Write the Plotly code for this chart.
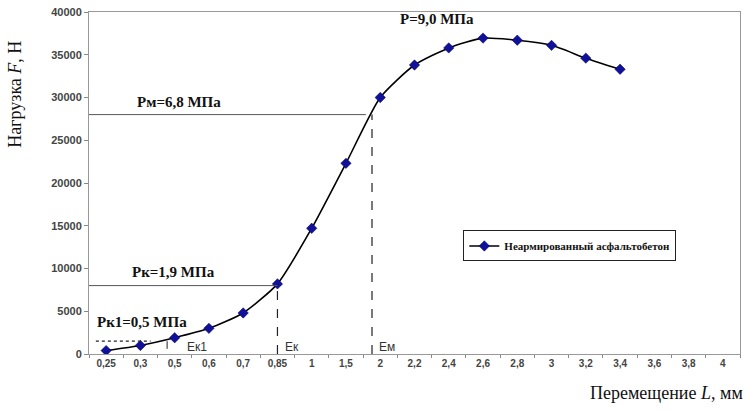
import plotly.graph_objects as go

# ---- data ----
categories = ["0,25", "0,3", "0,5", "0,6", "0,7", "0,85", "1", "1,5", "2", "2,2",
              "2,4", "2,6", "2,8", "3", "3,2", "3,4", "3,6", "3,8", "4"]
load_values = [400, 1000, 1900, 3000, 4800, 8200, 14700, 22300, 30000, 33800,
               35800, 36950, 36700, 36100, 34600, 33300]
series_name = "Неармированный асфальтобетон"
y_ticks = [0, 5000, 10000, 15000, 20000, 25000, 30000, 35000, 40000]

# reference levels (load) and category positions of the marks
pk1_load, pk_load, pm_load = 1500, 8000, 28000
ek1_pos, ek_pos, em_pos = 1.78, 5.0, 7.76

fig = go.Figure()
fig.add_trace(go.Scatter(
    x=categories[:len(load_values)], y=load_values, mode="lines+markers",
    name="<b>" + series_name + "</b>",
    line=dict(color="black", width=1.6, shape="spline", smoothing=0.6),
    marker=dict(symbol="diamond", size=8, color="#10109a", line=dict(color="#000050", width=0.5)),
))

line_col = "#555555"
shapes = [
    # Pм
    dict(type="line", xref="x", yref="y", x0=-0.5, x1=em_pos - 0.18, y0=pm_load, y1=pm_load,
         line=dict(color=line_col, width=1)),
    dict(type="line", xref="x", yref="y", x0=em_pos, x1=em_pos, y0=0, y1=pm_load,
         line=dict(color="#222", width=1.2, dash="dash")),
    # Pк
    dict(type="line", xref="x", yref="y", x0=-0.5, x1=ek_pos, y0=pk_load, y1=pk_load,
         line=dict(color=line_col, width=1)),
    dict(type="line", xref="x", yref="y", x0=ek_pos, x1=ek_pos, y0=0, y1=pk_load,
         line=dict(color="#222", width=1.2, dash="dash")),
    # Pк1
    dict(type="line", xref="x", yref="y", x0=-0.3, x1=1.3, y0=pk1_load, y1=pk1_load,
         line=dict(color="#222", width=1.2, dash="dot")),
    dict(type="line", xref="x", yref="y", x0=ek1_pos, x1=ek1_pos, y0=600, y1=pk1_load,
         line=dict(color="#222", width=1, dash="dash")),
]

serif = "Liberation Serif"
ann = []
def lab(x, y, text, size=15, font=serif, bold=True, xanchor="left", color="#111"):
    t = f"<b>{text}</b>" if bold else text
    ann.append(dict(x=x, y=y, xref="x", yref="y", text=t, showarrow=False,
                    xanchor=xanchor, yanchor="middle",
                    font=dict(family=font, size=size, color=color)))

lab(0.84, 29500, "Рм=6,8 МПа")
lab(0.7, 9600, "Рк=1,9 МПа")
lab(-0.32, 3750, "Рк1=0,5 МПа")
lab(8.52, 39200, "Р=9,0 МПа")
lab(2.3, 800, "Ек1", size=12, font="Liberation Sans", bold=False, color="#333")
lab(5.15, 800, "Ек", size=12, font="Liberation Sans", bold=False, color="#333")
lab(7.9, 800, "Ем", size=12, font="Liberation Sans", bold=False, color="#333")

# axis titles
ann.append(dict(x=-0.114, y=0.76, xref="paper", yref="paper", text="Нагрузка <i>F</i>, Н",
                textangle=-90, showarrow=False, xanchor="center", yanchor="middle",
                font=dict(family=serif, size=18, color="#111")))
ann.append(dict(x=1.008, y=-0.115, xref="paper", yref="paper", text="Перемещение <i>L</i>, мм",
                showarrow=False, xanchor="right", yanchor="middle",
                font=dict(family=serif, size=18, color="#111")))

fig.update_layout(
    width=747, height=412,
    margin=dict(l=89, r=7, t=12, b=58),
    paper_bgcolor="white", plot_bgcolor="white",
    shapes=shapes, annotations=ann,
    showlegend=True,
    legend=dict(x=0.575, y=0.316, xanchor="left", yanchor="middle",
                bordercolor="#222", borderwidth=1, bgcolor="white",
                font=dict(family=serif, size=11, color="#111"),
                itemwidth=30, tracegroupgap=0),
)
fig.update_xaxes(type="category", categoryorder="array", categoryarray=categories,
                 range=[-0.5, 18.5], showgrid=False, showline=True, linecolor="#999",
                 linewidth=1, mirror=True, ticks="outside", tickson="boundaries",
                 ticklen=3, tickcolor="#888",
                 tickfont=dict(family="Liberation Sans", size=10, color="#444", weight="bold"))
fig.update_yaxes(range=[0, 40000], tickvals=y_ticks, ticktext=[str(v) for v in y_ticks],
                 showgrid=False, showline=True, linecolor="#999", linewidth=1, mirror=True,
                 ticks="outside", ticklen=4, tickcolor="#888", zeroline=False,
                 tickfont=dict(family="Liberation Sans", size=11, color="#444", weight="bold"))

fig.write_html("out.html")
